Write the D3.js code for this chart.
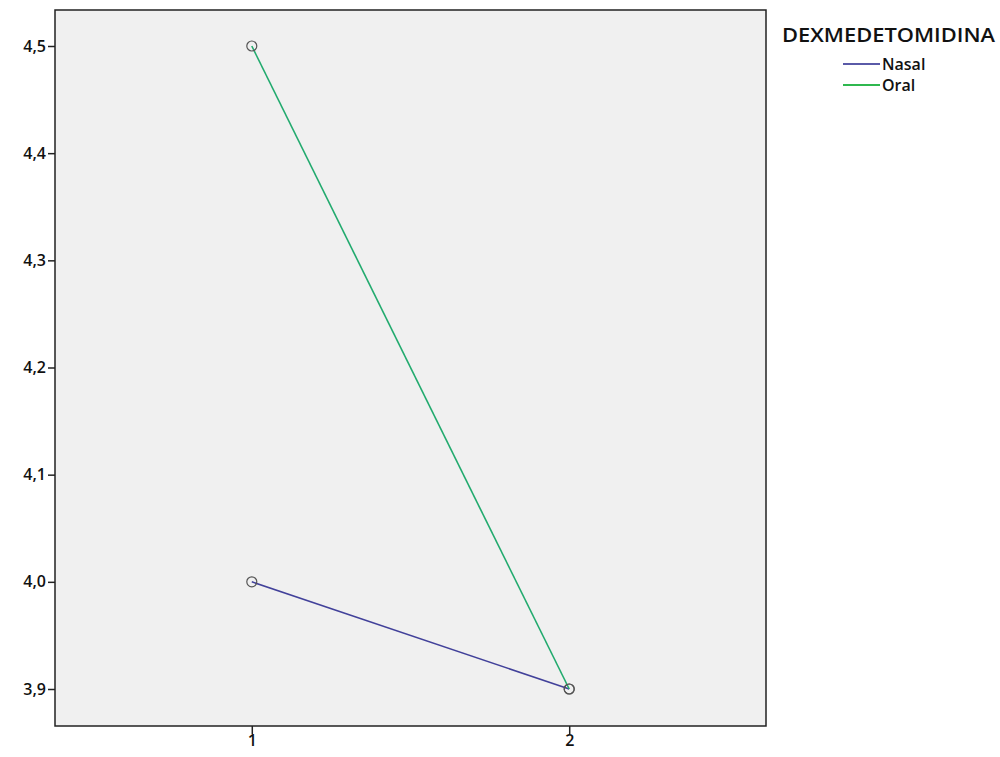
<!DOCTYPE html>
<html>
<head>
<meta charset="utf-8">
<script src="https://cdn.jsdelivr.net/npm/d3@7"></script>
<style>
  body { margin: 0; background: #fff; }
  text { font-family: "Open Sans", "DejaVu Sans", sans-serif; fill: #111; }
</style>
</head>
<body>
<svg width="1000" height="757"></svg>
<script>
// data
var xCategories = [1, 2];
var nasalValues = [4.0, 3.9];
var oralValues = [4.5, 3.9];
var yTicks = [3.9, 4.0, 4.1, 4.2, 4.3, 4.4, 4.5];
var seriesNames = ["Nasal", "Oral"];
var seriesColors = ["#42419a", "#22aa6e"];
var legendColors = ["#5a5aa8", "#2fb84f"];

var svg = d3.select('svg');
var plotL = 55, plotT = 10, plotR = 766, plotB = 726;

var xScale = d3.scaleLinear().domain([0.38, 2.62]).range([plotL, plotR]);
var yScale = d3.scaleLinear().domain([3.9, 4.5]).range([689, 46]);

svg.append('rect')
    .attr('x', plotL).attr('y', plotT)
    .attr('width', plotR - plotL).attr('height', plotB - plotT)
    .attr('fill', '#f0f0f0');

var fmt = function(d) { return d3.format('.1f')(d).replace('.', ','); };

svg.append('g')
    .attr('transform', 'translate(' + plotL + ',0)')
    .call(d3.axisLeft(yScale).tickValues(yTicks).tickFormat(fmt).tickSize(7).tickSizeOuter(0))
    .call(function(g) {
        g.select('.domain').remove();
        g.selectAll('line').attr('stroke', '#222').attr('stroke-width', 1.5);
        g.selectAll('text').attr('font-size', 16).attr('font-weight', 600).attr('fill', '#222').attr('x', -9);
    });

svg.append('g')
    .attr('transform', 'translate(0,' + plotB + ')')
    .call(d3.axisBottom(xScale).tickValues(xCategories).tickFormat(d3.format('d')).tickSize(8).tickSizeOuter(0))
    .call(function(g) {
        g.select('.domain').remove();
        g.selectAll('line').attr('stroke', '#222').attr('stroke-width', 1.5);
        g.selectAll('text').attr('font-size', 16).attr('font-weight', 600).attr('fill', '#222').attr('y', 9);
    });

svg.append('rect')
    .attr('x', plotL).attr('y', plotT)
    .attr('width', plotR - plotL).attr('height', plotB - plotT)
    .attr('fill', 'none').attr('stroke', '#222').attr('stroke-width', 1.5);

var line = d3.line()
    .x(function(d, i) { return xScale(xCategories[i]); })
    .y(function(d) { return yScale(d); });

var series = [nasalValues, oralValues];
series.forEach(function(vals, s) {
    svg.append('path')
        .datum(vals)
        .attr('d', line)
        .attr('fill', 'none')
        .attr('stroke', seriesColors[s])
        .attr('stroke-width', 1.6);
});
series.forEach(function(vals, s) {
    svg.selectAll('circle.s' + s).data(vals).enter().append('circle')
        .attr('class', 's' + s)
        .attr('cx', function(d, i) { return xScale(xCategories[i]); })
        .attr('cy', function(d) { return yScale(d); })
        .attr('r', 5)
        .attr('fill', 'none')
        .attr('stroke', '#555')
        .attr('stroke-width', 1.2);
});

// legend
svg.append('text').attr('x', 782).attr('y', 42)
    .attr('font-size', 20).attr('font-weight', 600).attr('fill', '#111')
    .attr('textLength', 213).attr('lengthAdjust', 'spacingAndGlyphs')
    .text('DEXMEDETOMIDINA');
var lg = svg.selectAll('g.leg').data(seriesNames).enter().append('g')
    .attr('transform', function(d, i) { return 'translate(843,' + (64 + i * 21) + ')'; });
lg.append('line').attr('x1', 0).attr('x2', 37).attr('y1', 0).attr('y2', 0)
    .attr('stroke', function(d, i) { return legendColors[i]; }).attr('stroke-width', 1.8);
lg.append('text').attr('x', 39).attr('y', 6).attr('font-size', 16).attr('font-weight', 600)
    .text(function(d) { return d; });
</script>
</body>
</html>
